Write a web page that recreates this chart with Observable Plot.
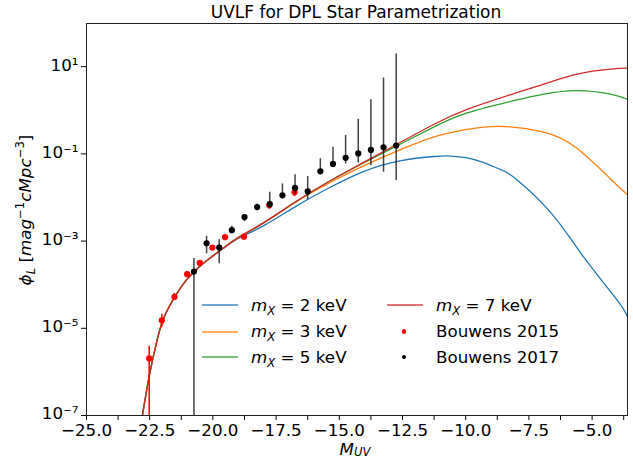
<!DOCTYPE html>
<html><head><meta charset="utf-8">
<script src="https://cdn.jsdelivr.net/npm/d3@7"></script>
<script src="https://cdn.jsdelivr.net/npm/@observablehq/plot@0.6"></script>
<style>
body{margin:0;background:#fff;}
#wrap{position:relative;width:633px;height:459px;font-family:"DejaVu Sans",sans-serif;color:#000;overflow:hidden;background:#fff;}
#wrap svg{position:absolute;left:0;top:0;}
.ov{position:absolute;white-space:nowrap;line-height:1;font-family:"DejaVu Sans",sans-serif;}
.ov i{font-style:italic;}
.ov sub,.ov sup{font-size:70%;line-height:0;}
.ov .sb{font-size:70%;line-height:0;vertical-align:-0.05em;}
</style></head><body><div id="wrap"></div>
<script>
// ---------- data (phi values given as log10 exponents) ----------
const titleText = "UVLF for DPL Star Parametrization";

// Bouwens 2015 (red points)
const b15M      = [-22.52,-22.02,-21.52,-21.02,-20.52,-20.02,-19.52,-18.77,-17.77,-16.77];
const b15Log    = [-5.69,-4.82,-4.28,-3.76,-3.50,-3.15,-2.91,-2.90,-2.18,-1.88];
const b15LogHi  = [-5.41,-4.68,-4.20,-3.70,-3.45,-3.10,-2.87,-2.85,-2.12,-1.80];
const b15LogLo  = [-9.00,-4.98,-4.36,-3.82,-3.55,-3.20,-2.95,-2.97,-2.26,-1.98];

// Bouwens 2017 (black points)
const b17M      = [-20.75,-20.25,-19.75,-19.25,-18.75,-18.25,-17.75,-17.25,-16.75,-16.25,-15.75,-15.25,-14.75,-14.25,-13.75,-13.25,-12.75];
const b17Log    = [-3.70,-3.05,-3.15,-2.75,-2.45,-2.22,-2.15,-1.95,-1.78,-1.86,-1.40,-1.23,-1.09,-0.99,-0.91,-0.85,-0.81];
const b17LogHi  = [-3.40,-2.89,-2.97,-2.66,-2.40,-2.15,-1.88,-1.69,-1.48,-1.52,-1.11,-0.85,-0.58,-0.21,0.24,0.74,1.29];
const b17LogLo  = [-9.00,-3.29,-3.52,-2.83,-2.55,-2.30,-2.26,-2.03,-1.92,-2.05,-1.46,-1.31,-1.23,-1.21,-1.27,-1.42,-1.61];

// model curves
const m2M   = [-22.79,-22.5,-22.24,-21.98,-21.59,-21.06,-20.4,-19.61,-19.0,-17.97,-16.65,-15.34,-14.02,-12.6,-11.25,-10.6,-9.94,-9.28,-8.62,-8.0,-6.6,-5.33,-4.0,-3.6];
const m2Log = [-7.0,-6.04,-5.35,-4.82,-4.36,-3.90,-3.52,-3.18,-2.94,-2.64,-2.18,-1.76,-1.40,-1.16,-1.06,-1.05,-1.09,-1.20,-1.36,-1.58,-2.37,-3.37,-4.36,-4.74];
const m3M   = [-22.79,-22.5,-22.24,-21.98,-21.59,-21.06,-20.4,-19.61,-19.0,-17.97,-16.65,-15.34,-14.02,-12.6,-11.25,-9.94,-8.62,-6.91,-5.6,-4.28,-3.6];
const m3Log = [-7.0,-6.04,-5.35,-4.82,-4.36,-3.90,-3.52,-3.17,-2.92,-2.58,-2.08,-1.65,-1.27,-0.91,-0.61,-0.44,-0.37,-0.50,-0.87,-1.57,-1.94];
const m5M   = [-22.79,-22.5,-22.24,-21.98,-21.59,-21.06,-20.4,-19.61,-19.0,-17.97,-16.65,-15.34,-14.02,-12.6,-11.25,-9.94,-8.1,-6.91,-5.6,-4.28,-3.6];
const m5Log = [-7.0,-6.04,-5.35,-4.82,-4.36,-3.90,-3.52,-3.17,-2.92,-2.57,-2.07,-1.61,-1.20,-0.78,-0.38,-0.06,0.22,0.37,0.45,0.37,0.25];
const m7M   = [-22.79,-22.5,-22.24,-21.98,-21.59,-21.06,-20.4,-19.61,-19.0,-17.97,-16.65,-15.34,-14.02,-12.6,-11.25,-9.94,-8.1,-6.91,-5.6,-4.28,-3.6];
const m7Log = [-7.0,-6.04,-5.35,-4.82,-4.36,-3.90,-3.52,-3.17,-2.92,-2.57,-2.07,-1.61,-1.19,-0.74,-0.32,0.02,0.38,0.60,0.83,0.945,0.965];

const seriesNames  = ["m_X = 2 keV","m_X = 3 keV","m_X = 5 keV","m_X = 7 keV"];
const seriesColors = ["#1f77b4","#ff7f0e","#2ca02c","#d62728"];

// ticks
const xTickValues = [-25,-23.75,-22.5,-21.25,-20,-18.75,-17.5,-16.25,-15,-13.75,-12.5,-11.25,-10,-8.75,-7.5,-6.25,-5,-3.75];
const xTickLabels = [-25,-22.5,-20,-17.5,-15,-12.5,-10,-7.5,-5];
const yTickValues = [1e-7,1e-5,1e-3,1e-1,1e1];
const yTickLabels = ["10\u207B\u2077","10\u207B\u2075","10\u207B\u00B3","10\u207B\u00B9","10\u00B9"];

// ---------- build tables ----------
const curves = [[m2M,m2Log],[m3M,m3Log],[m5M,m5Log],[m7M,m7Log]].flatMap(([M,L],k) =>
  M.map((m,i) => ({M:m, phi:Math.pow(10,L[i]), s:seriesNames[k]})));
const b15 = b15M.map((m,i)=>({M:m, phi:Math.pow(10,b15Log[i]), hi:Math.pow(10,b15LogHi[i]), lo:Math.pow(10,b15LogLo[i])}));
const b17 = b17M.map((m,i)=>({M:m, phi:Math.pow(10,b17Log[i]), hi:Math.pow(10,b17LogHi[i]), lo:Math.pow(10,b17LogLo[i])}));

const FS = 16.7;
const fmtX = d => (d < 0 ? "\u2212" : "") + Math.abs(d).toFixed(1);
const isLabeled = d => xTickLabels.some(v => Math.abs(v - d) < 1e-9);

const chart = Plot.plot({
  width:633, height:459,
  marginLeft:86, marginRight:6, marginTop:23, marginBottom:44,
  style:{fontFamily:"DejaVu Sans, sans-serif", fontSize:FS+"px", color:"#000", background:"transparent"},
  x:{domain:[-25,-3.6]},
  y:{type:"log", domain:[1e-7, Math.pow(10,1.99)]},
  color:{domain:seriesNames, range:seriesColors},
  marks:[
    Plot.axisX({ticks:xTickValues, tickFormat:d => isLabeled(d) ? fmtX(d) : "", tickSize:5, tickPadding:4, label:null, fontSize:FS, stroke:"#000"}),
    // y tick marks
    Plot.axisY({ticks:yTickValues, tickFormat:() => "", tickSize:5, label:null, stroke:"#000"}),
    // y tick labels (slightly raised)
    Plot.axisY({ticks:yTickValues, tickFormat:d => yTickLabels[yTickValues.indexOf(d)], tickSize:0, tickPadding:8, label:null, fontSize:FS, dy:-1.5}),
    Plot.line(curves, {x:"M", y:"phi", z:"s", stroke:"s", strokeWidth:1.3, curve:"natural", clip:true}),
    Plot.ruleX(b15, {x:"M", y1:"lo", y2:"hi", stroke:"#ff0000", strokeWidth:1.5, clip:true}),
    Plot.dot(b15, {x:"M", y:"phi", r:3.1, fill:"#ff0000", clip:true}),
    Plot.ruleX(b17, {x:"M", y1:"lo", y2:"hi", stroke:"#111", strokeWidth:1.5, strokeOpacity:0.8, clip:true}),
    Plot.dot(b17, {x:"M", y:"phi", r:3.1, fill:"#000", clip:true}),
    Plot.frame({stroke:"#222", strokeWidth:1})
  ]
});
const wrap = document.getElementById("wrap");
wrap.appendChild(chart);

// ---------- overlays: title, axis labels, legend ----------
function addText(html, x, baseline, anchor, size, lh) {
  const d = document.createElement("div");
  d.className = "ov";
  d.innerHTML = html;
  d.style.fontSize = size + "px";
  const L = lh || 1;
  d.style.lineHeight = L;
  d.style.top = (baseline - ((L - 1.164)/2 + 0.928)*size) + "px";
  d.style.left = x + "px";
  if (anchor === "middle") d.style.transform = "translateX(-50%)";
  wrap.appendChild(d);
  return d;
}
addText(titleText, 356, 18, "middle", 17);
addText("<i>M</i><span class=\"sb\"><i>UV</i></span>", 355, 455.5, "middle", FS, 0.8);

// y label (rotated)
const yl = document.createElement("div");
yl.className = "ov";
yl.style.fontSize = FS + "px";
yl.innerHTML = "<i>\u03D5</i><sub><i>L</i></sub> [<i>mag</i><sup>\u22121</sup><i>cMpc</i><sup>\u22123</sup>]";
yl.style.left = "25px"; yl.style.top = "210px";
yl.style.transform = "translate(-50%,-50%) rotate(-90deg)";
wrap.appendChild(yl);

// legend
const rows = [305, 331.5, 357.3];
const legendHtml = [
  "<i>m</i><sub><i>X</i></sub> = 2 keV",
  "<i>m</i><sub><i>X</i></sub> = 3 keV",
  "<i>m</i><sub><i>X</i></sub> = 5 keV",
  "<i>m</i><sub><i>X</i></sub> = 7 keV",
  "Bouwens 2015",
  "Bouwens 2017"
];
function swatchLine(x, y, color) {
  const s = document.createElement("div");
  s.style.cssText = `position:absolute;left:${x}px;top:${y-1}px;width:36px;height:2px;background:${color};opacity:0.65;`;
  wrap.appendChild(s);
}
function swatchDot(x, y, color) {
  const s = document.createElement("div");
  const r = 2.2;
  s.style.cssText = `position:absolute;left:${x-r}px;top:${y-r}px;width:${2*r}px;height:${2*r}px;border-radius:50%;background:${color};`;
  wrap.appendChild(s);
}
for (let i = 0; i < 3; i++) {
  swatchLine(202, rows[i], seriesColors[i]);
  addText(legendHtml[i], 251, rows[i] + 6, "start", FS);
}
swatchLine(387, rows[0], seriesColors[3]);
addText(legendHtml[3], 436, rows[0] + 6, "start", FS);
swatchDot(404, rows[1], "#ff0000");
addText(legendHtml[4], 436, rows[1] + 6, "start", FS);
swatchDot(404, rows[2], "#000");
addText(legendHtml[5], 436, rows[2] + 6, "start", FS);
</script>
</body></html>
